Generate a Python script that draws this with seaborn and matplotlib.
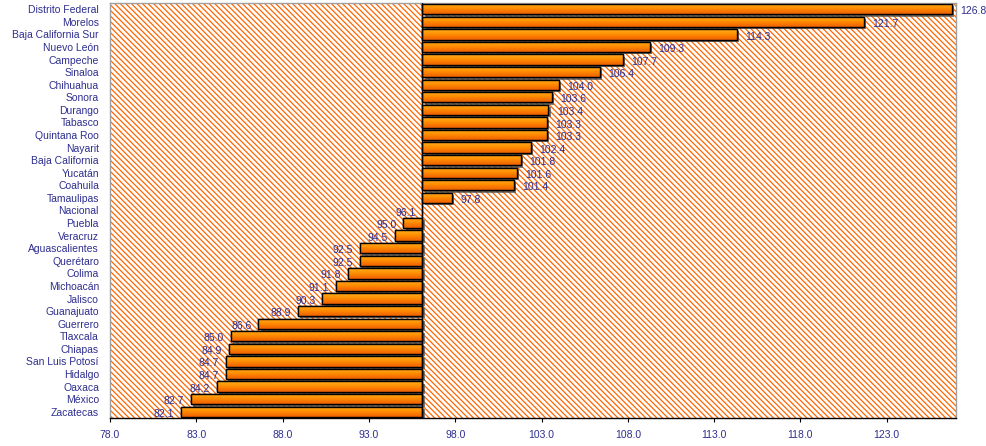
import matplotlib
matplotlib.use("Agg")
import matplotlib.pyplot as plt
import matplotlib.patheffects as pe
from matplotlib.colors import LinearSegmentedColormap
from matplotlib.patches import Rectangle
import numpy as np
import pandas as pd
import seaborn as sns

STATES = [
    "Distrito Federal", "Morelos", "Baja California Sur", "Nuevo León",
    "Campeche", "Sinaloa", "Chihuahua", "Sonora", "Durango", "Tabasco",
    "Quintana Roo", "Nayarit", "Baja California", "Yucatán", "Coahuila",
    "Tamaulipas", "Nacional", "Puebla", "Veracruz", "Aguascalientes",
    "Querétaro", "Colima", "Michoacán", "Jalisco", "Guanajuato", "Guerrero",
    "Tlaxcala", "Chiapas", "San Luis Potosí", "Hidalgo", "Oaxaca", "México",
    "Zacatecas",
]
VALUES = [
    126.8, 121.7, 114.3, 109.3, 107.7, 106.4, 104.0, 103.6, 103.4, 103.3,
    103.3, 102.4, 101.8, 101.6, 101.4, 97.8, 96.1, 95.0, 94.5, 92.5,
    92.5, 91.8, 91.1, 90.3, 88.9, 86.6, 85.0, 84.9, 84.7, 84.7, 84.2, 82.7,
    82.1,
]
BASE = 96.1  # Nacional
X_TICKS = [78.0, 83.0, 88.0, 93.0, 98.0, 103.0, 108.0, 113.0, 118.0, 123.0]

NAVY = "#2E2E8F"
HATCH_ORANGE = "#FF6600"

sns.set_style("white")
plt.rcParams["font.family"] = ["Liberation Sans", "DejaVu Sans"]
plt.rcParams["hatch.linewidth"] = 0.9
plt.rcParams["hatch.color"] = HATCH_ORANGE

df = pd.DataFrame({"state": STATES, "value": VALUES})
df["diff"] = df["value"] - BASE

fig = plt.figure(figsize=(9.86, 4.46), dpi=100)
ax = fig.add_axes([0.1116, 0.0628, 0.8577, 0.9305])

# hatched background
ax.add_patch(Rectangle((0, 0), 1, 1, transform=ax.transAxes, facecolor="white",
                       edgecolor=HATCH_ORANGE, hatch="\\" * 6, lw=0, zorder=0))

sns.barplot(data=df, x="diff", y="state", orient="h", color="#FF8800",
            width=0.82, edgecolor="black", linewidth=1.0, ax=ax, zorder=2)

grad_cmap = LinearSegmentedColormap.from_list("bar", ["#FFB020", "#FF8C00", "#EE5F00"])
grad = np.linspace(0, 1, 64).reshape(-1, 1)

bars = list(ax.patches)[1:]
for p in bars:
    p.set_x(p.get_x() + BASE)
    p.set_path_effects([pe.SimplePatchShadow(offset=(1.5, -1.6), shadow_rgbFace="#555555",
                                             alpha=0.75), pe.Normal()])
    x0, y0, w, h = p.get_x(), p.get_y(), p.get_width(), p.get_height()
    if abs(w) < 1e-9:
        continue
    xl, xr = min(x0, x0 + w), max(x0, x0 + w)
    im = ax.imshow(grad, extent=(xl, xr, y0 + h, y0), origin="upper", cmap=grad_cmap,
                   aspect="auto", interpolation="bilinear", zorder=2.5)
    im.set_clip_path(p)
    ax.add_patch(Rectangle((x0, y0), w, h, fill=False, edgecolor="black", lw=1.0, zorder=3))

for i, v in enumerate(VALUES):
    if v > BASE:
        ax.annotate(f"{v:.1f}", (v, i), xytext=(6, -1.5), textcoords="offset points",
                    ha="left", va="center", fontsize=7.5, color=NAVY, zorder=5,
                    annotation_clip=False)
    else:
        ax.annotate(f"{v:.1f}", (v, i), xytext=(-5, -1.5), textcoords="offset points",
                    ha="right", va="center", fontsize=7.5, color=NAVY, zorder=5)

ax.axvline(BASE, color="black", lw=1.0, zorder=4)

ax.set_xlim(78.0, 127.0)
ax.set_ylim(len(STATES) - 0.5, -0.5)
ax.set_xticks(X_TICKS)
ax.set_xticklabels([f"{t:.1f}" for t in X_TICKS])
ax.set_xlabel("")
ax.set_ylabel("")
ax.tick_params(axis="x", direction="out", length=3, width=0.8, color="black",
               labelsize=7.5, labelcolor=NAVY, pad=6, bottom=True)
ax.tick_params(axis="y", length=0, labelsize=7.5, labelcolor=NAVY, pad=8)

for side in ["top", "right", "left"]:
    ax.spines[side].set_color("#A0A0A0")
    ax.spines[side].set_linewidth(1.0)
ax.spines["bottom"].set_color("black")
ax.spines["bottom"].set_linewidth(1.0)

fig.savefig("out.png", dpi=100, facecolor="white")
